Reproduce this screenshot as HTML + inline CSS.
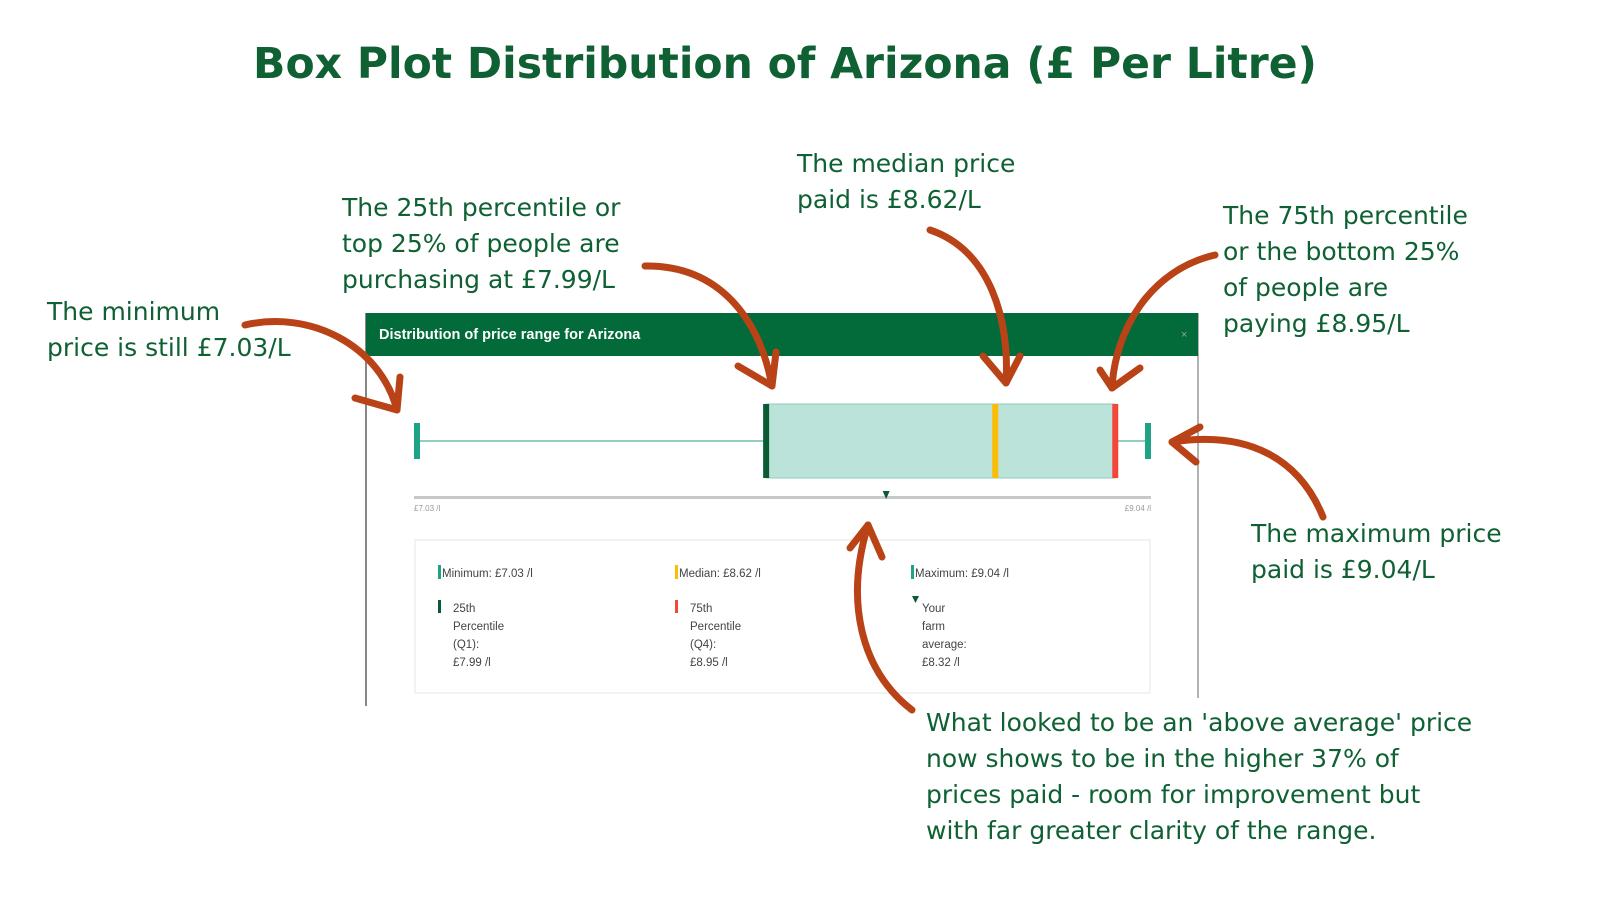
<!DOCTYPE html>
<html><head><meta charset="utf-8"><style>
body{margin:0;width:1600px;height:900px;background:#fff;overflow:hidden;font-family:"Liberation Sans",sans-serif}
svg{display:block}
.ann{font-family:"DejaVu Sans","Liberation Sans",sans-serif;font-size:25px;letter-spacing:0px;fill:#0f6133}
.leg{font-family:"Liberation Sans",sans-serif;font-size:11.5px;fill:#444}
.arrow{fill:none;stroke:#b94316;stroke-width:7;stroke-linecap:round;stroke-linejoin:round}
</style></head><body>
<svg width="1600" height="900">
<text x="785" y="78" text-anchor="middle" font-family="DejaVu Sans, Liberation Sans, sans-serif" font-size="42.5" font-weight="bold" fill="#0f6133">Box Plot Distribution of Arizona (£ Per Litre)</text>

<g>
<line x1="366" y1="313" x2="366" y2="706" stroke="#888" stroke-width="2"/>
<line x1="1198" y1="313" x2="1198" y2="698" stroke="#999" stroke-width="1.5"/>
<rect x="366" y="313" width="832" height="43" fill="#036b3a"/>
<text x="379" y="339" font-size="14.5" font-weight="bold" fill="#fff">Distribution of price range for Arizona</text>
<text x="1181" y="338" font-size="11" fill="#8aa">×</text>
</g>
<g id="plot"></g>
<g>
<rect x="415" y="540" width="735" height="153" fill="#fff" stroke="#eee" stroke-width="1.5"/>
</g>
<g id="legend"></g>

<g>
<text class="ann"><tspan x="47" y="320">The minimum</tspan><tspan x="47" y="356">price is still £7.03/L</tspan></text>
<text class="ann"><tspan x="342" y="216">The 25th percentile or</tspan><tspan x="342" y="252">top 25% of people are</tspan><tspan x="342" y="288">purchasing at £7.99/L</tspan></text>
<text class="ann"><tspan x="797" y="172">The median price</tspan><tspan x="797" y="208">paid is £8.62/L</tspan></text>
<text class="ann"><tspan x="1223" y="224">The 75th percentile</tspan><tspan x="1223" y="260">or the bottom 25%</tspan><tspan x="1223" y="296">of people are</tspan><tspan x="1223" y="332">paying £8.95/L</tspan></text>
<text class="ann"><tspan x="1251" y="542">The maximum price</tspan><tspan x="1251" y="578">paid is £9.04/L</tspan></text>
<text class="ann"><tspan x="926" y="731">What looked to be an 'above average' price</tspan><tspan x="926" y="767">now shows to be in the higher 37% of</tspan><tspan x="926" y="803">prices paid - room for improvement but</tspan><tspan x="926" y="839">with far greater clarity of the range.</tspan></text>
</g>
<g>
<path class="arrow" d="M245 325 C 310 310 380 345 397 410"/><path class="arrow" d="M355 398 L397 410 L400 377"/>
<path class="arrow" d="M645 266 C 720 265 760 320 772 386"/><path class="arrow" d="M738 366 L772 386 L776 352"/>
<path class="arrow" d="M930 230 C 990 250 1010 320 1006 383"/><path class="arrow" d="M983 356 L1006 383 L1020 356"/>
<path class="arrow" d="M1215 255 C 1150 270 1115 330 1112 388"/><path class="arrow" d="M1100 370 L1112 388 L1140 368"/>
<path class="arrow" d="M1323 517 C 1300 460 1250 430 1172 442"/><path class="arrow" d="M1200 427 L1172 442 L1196 462"/>
<path class="arrow" d="M912 710 C 860 670 845 600 868 525"/><path class="arrow" d="M850 548 L868 525 L882 557"/>
</g>
</svg>
<script>
const statNames=["Minimum","25th Percentile","Median","75th Percentile","Maximum"];
const statValues=[7.03,7.99,8.62,8.95,9.04];
const farmAverage=[8.32];
const axisLabels=["£7.03 /l","£9.04 /l"];
const NS="http://www.w3.org/2000/svg";
const x0=417,x1=1148,vMin=statValues[0],vMax=statValues[4];
function xs(v){return x0+(v-vMin)/(vMax-vMin)*(x1-x0);}
function mk(tag,attrs,parent){const e=document.createElementNS(NS,tag);for(const k in attrs)e.setAttribute(k,attrs[k]);parent.appendChild(e);return e;}
const g=document.getElementById('plot');
const [mn,q1,md,q3,mx]=statValues;
let e;
e=mk('line',{x1:xs(mn),y1:441,x2:xs(q1),y2:441,stroke:'#6bbfae','stroke-width':1.5},g);

e=mk('line',{x1:xs(q3),y1:441,x2:xs(mx),y2:441,stroke:'#6bbfae','stroke-width':1.5},g);

e=mk('rect',{x:xs(q1),y:404,width:xs(q3)-xs(q1),height:74,fill:'#bce3da',stroke:'#8ecbb9','stroke-width':1},g);

e=mk('rect',{x:xs(mn)-3,y:423,width:6,height:36,fill:'#1fa386'},g);

e=mk('rect',{x:xs(mx)-3,y:423,width:6,height:36,fill:'#1fa386'},g);

e=mk('rect',{x:xs(q1)-3,y:404,width:6,height:74,fill:'#0a5a33'},g);

e=mk('rect',{x:xs(md)-3,y:404,width:6,height:74,fill:'#fbbc05'},g);

e=mk('rect',{x:xs(q3)-3,y:404,width:6,height:74,fill:'#f2473b'},g);

e=mk('rect',{x:x0-3,y:496,width:(x1-x0)+6,height:3,fill:'#c8c8c8'},g);

const fx=xs(farmAverage[0]);
e=mk('path',{d:`M${fx-3.5} 491 L${fx+3.5} 491 L${fx} 499 Z`,fill:'#0a5a33'},g);

e=mk('text',{x:x0-3,y:511,'font-size':8,fill:'#999'},g);e.textContent=axisLabels[0];

e=mk('text',{x:x1+3,y:511,'font-size':8,fill:'#999','text-anchor':'end'},g);e.textContent=axisLabels[1];

const L=document.getElementById('legend');
const fmt=v=>'£'+v.toFixed(2)+' /l';
const oneLine=[[438,"#1fa386","Minimum",statValues[0]],[675,"#fbbc05","Median",statValues[2]],[911,"#1fa386","Maximum",statValues[4]]];
oneLine.forEach(r=>{
 e=mk('rect',{x:r[0],y:565,width:3,height:14,fill:r[1]},L);
 
 e=mk('text',{x:r[0]+4,y:577,class:'leg'},L);e.textContent=r[2]+': '+fmt(r[3]);
 
});
const multi=[[438,"#0a5a33",["25th","Percentile","(Q1):",fmt(statValues[1])]],[675,"#f2473b",["75th","Percentile","(Q4):",fmt(statValues[3])]]];
multi.forEach(r=>{
 e=mk('rect',{x:r[0],y:600,width:3,height:13,fill:r[1]},L);
 
 r[2].forEach((t,i)=>{e=mk('text',{x:r[0]+15,y:612+i*18,class:'leg'},L);e.textContent=t;
 });
});
e=mk('path',{d:'M912 596 L919 596 L915.5 603 Z',fill:'#0a5a33'},L);

["Your","farm","average:",fmt(farmAverage[0])].forEach((t,i)=>{e=mk('text',{x:922,y:612+i*18,class:'leg'},L);e.textContent=t;
 });
</script>
</body></html>
